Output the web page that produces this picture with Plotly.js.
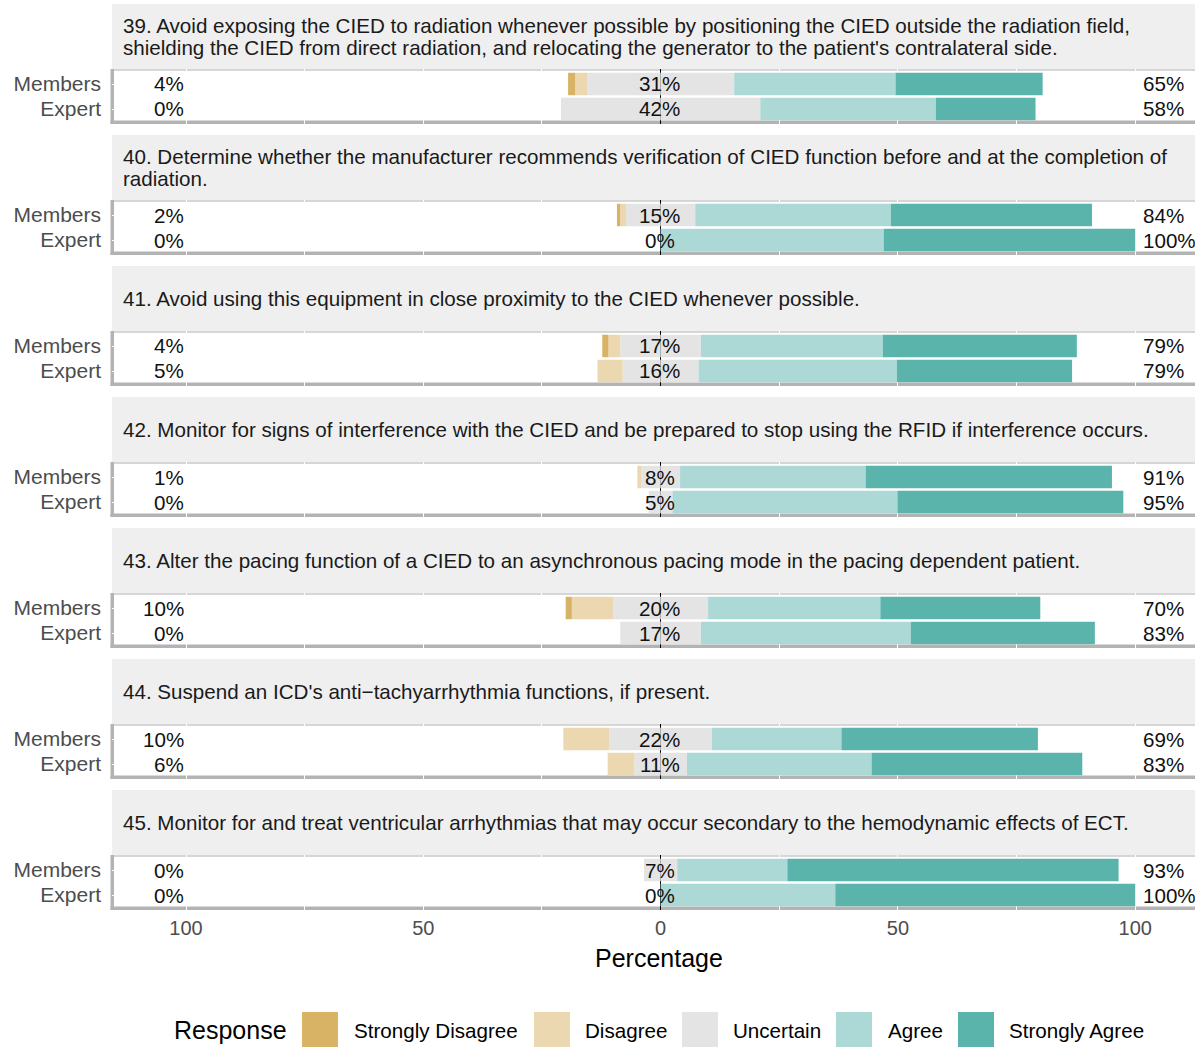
<!DOCTYPE html>
<html>
<head>
<meta charset="utf-8">
<script src="https://cdn.plot.ly/plotly-3.0.1.min.js"></script>
<style>html,body{margin:0;padding:0;background:#fff}#chart{width:1195px;height:1047px}</style>
</head>
<body>
<div id="chart"></div>
<script>
// ---------------- data ----------------
const questions = [
  "39. Avoid exposing the CIED to radiation whenever possible by positioning the CIED outside the radiation field,\nshielding the CIED from direct radiation, and relocating the generator to the patient's contralateral side.",
  "40. Determine whether the manufacturer recommends verification of CIED function before and at the completion of\nradiation.",
  "41. Avoid using this equipment in close proximity to the CIED whenever possible.",
  "42. Monitor for signs of interference with the CIED and be prepared to stop using the RFID if interference occurs.",
  "43. Alter the pacing function of a CIED to an asynchronous pacing mode in the pacing dependent patient.",
  "44. Suspend an ICD's anti\u2212tachyarrhythmia functions, if present.",
  "45. Monitor for and treat ventricular arrhythmias that may occur secondary to the hemodynamic effects of ECT."
];
const groups = ["Members", "Expert"];
const responses = ["Strongly Disagree", "Disagree", "Uncertain", "Agree", "Strongly Agree"];

const sdMembers = [1.5, 0.7, 1.3, 0.0, 1.3, 0.0, 0.0];
const dMembers  = [2.5, 1.2, 2.5, 0.8, 8.7, 9.7, 0.0];
const uMembers  = [31.0, 14.6, 17.0, 8.2, 20.0, 21.6, 7.0];
const aMembers  = [34.0, 41.2, 38.3, 39.1, 36.3, 27.3, 23.2];
const saMembers = [31.0, 42.4, 40.9, 51.9, 33.7, 41.4, 69.8];

const sdExpert = [0, 0, 0, 0, 0, 0, 0];
const dExpert  = [0, 0, 5.3, 0, 0, 5.6, 0];
const uExpert  = [42.0, 0.0, 16.0, 5.0, 17.0, 11.1, 0.0];
const aExpert  = [37.0, 47.0, 41.8, 47.4, 44.2, 38.9, 36.8];
const saExpert = [21.0, 53.0, 36.9, 47.6, 38.8, 44.4, 63.2];

const xTickVals = [-100, -50, 0, 50, 100];
const xTickText = ["100", "50", "0", "50", "100"];

// ---------------- styling / layout ----------------
const colors = ["#D8B365", "#EBD8B0", "#E4E4E4", "#ACD8D5", "#5AB4AC"];
const FONT = "Liberation Sans, Arial, Helvetica, sans-serif";
const W = 1195, H = 1047;
const px = v => v / W;
const py = v => 1 - v / H;
const PANEL_TOP0 = 69, PANEL_H = 55, PITCH = 131, STRIP_H = 65;
const PANEL_LEFT = 112;
const TXT = 20.6;

const traces = [];
const shapes = [];
const annotations = [];
const layout = {
  width: W, height: H,
  margin: {l: 0, r: 0, t: 0, b: 0},
  paper_bgcolor: "white", plot_bgcolor: "white",
  font: {family: FONT, size: TXT, color: "#1a1a1a"},
  barmode: "relative",
  bargap: 0.1,
  showlegend: false,
  hovermode: false,
  xaxis: {
    domain: [px(PANEL_LEFT), 1],
    range: [-115.6, 112.6],
    tickvals: xTickVals, ticktext: xTickText,
    tickfont: {size: 20, color: "#4d4d4d"},
    ticks: "", ticklabelstandoff: 4,
    showgrid: true, gridcolor: "white", gridwidth: 1,
    minor: {tickvals: [-75, -25, 25, 75], showgrid: true, gridcolor: "white", gridwidth: 1},
    zeroline: true, zerolinecolor: "black", zerolinewidth: 1.5,
    showline: false,
    anchor: "y7",
    fixedrange: true
  }
};

questions.forEach((q, k) => {
  const top = PANEL_TOP0 + k * PITCH;
  const ya = k === 0 ? "y" : "y" + (k + 1);
  const axKey = k === 0 ? "yaxis" : "yaxis" + (k + 1);
  layout[axKey] = {
    domain: [py(top + PANEL_H), py(top)],
    range: [-0.6, 1.6],
    tickvals: [1, 0], ticktext: groups,
    tickfont: {size: 21, color: "#4d4d4d"},
    ticks: "", ticklabelstandoff: 10,
    showgrid: true, gridcolor: "white", gridwidth: 1,
    zeroline: false, showline: false,
    anchor: "x", fixedrange: true
  };
  const yv = [1, 0];
  const sd = [sdMembers[k], sdExpert[k]];
  const d = [dMembers[k], dExpert[k]];
  const u = [uMembers[k], uExpert[k]];
  const a = [aMembers[k], aExpert[k]];
  const sa = [saMembers[k], saExpert[k]];
  const mk = (name, xs, color) => ({
    type: "bar", orientation: "h", name: name, x: xs, y: yv,
    xaxis: "x", yaxis: ya, width: 0.9,
    marker: {color: color, line: {width: 0}}, showlegend: false, hoverinfo: "skip"
  });
  // stacking order: closest to centre first
  traces.push(mk("Uncertain", u.map(v => -v / 2), colors[2]));
  traces.push(mk("Uncertain", u.map(v => v / 2), colors[2]));
  traces.push(mk("Disagree", d.map(v => -v), colors[1]));
  traces.push(mk("Agree", a, colors[3]));
  traces.push(mk("Strongly Disagree", sd.map(v => -v), colors[0]));
  traces.push(mk("Strongly Agree", sa, colors[4]));

  // value labels
  yv.forEach((yy, gi) => {
    const low = Math.round(sd[gi] + d[gi]);
    const mid = Math.round(u[gi]);
    const high = Math.round(a[gi] + sa[gi]);
    const base = {xref: "x", yref: ya, y: yy, showarrow: false, font: {size: TXT, color: "#111"}, yanchor: "middle"};
    annotations.push(Object.assign({}, base, {x: -100, xanchor: "right", text: low + "%"}));
    annotations.push(Object.assign({}, base, {x: -0.2, xanchor: "center", text: mid + "%"}));
    annotations.push(Object.assign({}, base, {x: 101.3, xanchor: "left", text: high + "%"}));
  });

  // strip
  const sTop = top - STRIP_H;
  shapes.push({type: "rect", xref: "paper", yref: "paper", x0: px(PANEL_LEFT), x1: 1,
    y0: py(top), y1: py(sTop), fillcolor: "#EFEFEF", line: {width: 0}, layer: "below"});
  const lines = q.split("\n");
  const lineGap = 21.5;
  const center = sTop + STRIP_H / 2;
  lines.forEach((ln, li) => {
    const yc = center + (li - (lines.length - 1) / 2) * lineGap;
    annotations.push({xref: "paper", yref: "paper", x: px(121), y: py(yc), xanchor: "left", yanchor: "middle",
      text: ln, showarrow: false, font: {size: TXT, color: "#1a1a1a"}});
  });

  // panel borders
  shapes.push({type: "rect", xref: "paper", yref: "paper", x0: px(PANEL_LEFT), x1: 1,
    y0: py(top + 2), y1: py(top), fillcolor: "#D6D6D6", line: {width: 0}, layer: "below"});
  shapes.push({type: "rect", xref: "paper", yref: "paper", x0: px(110.5), x1: px(114),
    y0: py(top + PANEL_H), y1: py(top), fillcolor: "#B3B3B3", line: {width: 0}, layer: "below"});
  shapes.push({type: "rect", xref: "paper", yref: "paper", x0: px(110.5), x1: 1,
    y0: py(top + PANEL_H), y1: py(top + PANEL_H - 3.5), fillcolor: "#B3B3B3", line: {width: 0}, layer: "below"});
});

// x-axis title
annotations.push({xref: "paper", yref: "paper", x: px(659), y: py(958), xanchor: "center", yanchor: "middle",
  text: "Percentage", showarrow: false, font: {size: 25, color: "black"}});

// manual legend
annotations.push({xref: "paper", yref: "paper", x: px(172), y: py(1030), xanchor: "left", yanchor: "middle",
  text: "Response", showarrow: false, font: {size: 25, color: "black"}});
const swX = [302, 534, 682, 836, 958];
const lbX = [352, 583, 731, 886, 1007];
responses.forEach((r, i) => {
  shapes.push({type: "rect", xref: "paper", yref: "paper", x0: px(swX[i]), x1: px(swX[i] + 36),
    y0: py(1048), y1: py(1012), fillcolor: colors[i], line: {width: 0}});
  annotations.push({xref: "paper", yref: "paper", x: px(lbX[i]), y: py(1030), xanchor: "left", yanchor: "middle",
    text: r, showarrow: false, font: {size: TXT, color: "black"}});
});

layout.shapes = shapes;
layout.annotations = annotations;

Plotly.newPlot("chart", traces, layout, {staticPlot: true, displayModeBar: false});
</script>
</body>
</html>
